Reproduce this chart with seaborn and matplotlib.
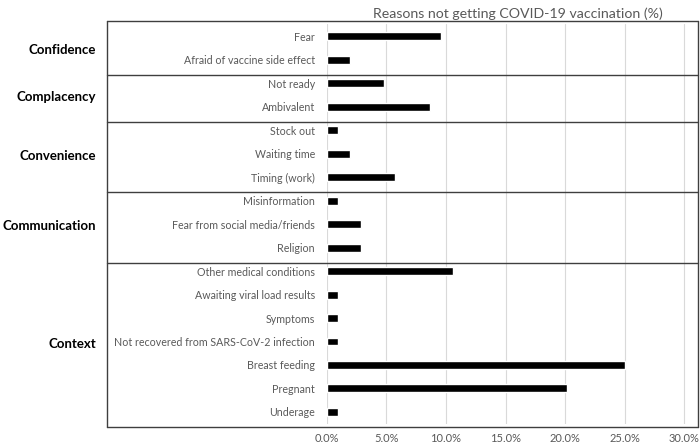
import matplotlib
matplotlib.use("Agg")
import matplotlib.pyplot as plt
import matplotlib.transforms as mtransforms
from matplotlib.lines import Line2D
import pandas as pd
import seaborn as sns

# values (% of respondents)
groups = ["Confidence", "Complacency", "Convenience", "Communication", "Context"]
group_sizes = [2, 2, 3, 3, 7]
reasons = [
    "Fear", "Afraid of vaccine side effect",
    "Not ready", "Ambivalent",
    "Stock out", "Waiting time", "Timing (work)",
    "Misinformation", "Fear from social media/friends", "Religion",
    "Other medical conditions", "Awaiting viral load results", "Symptoms",
    "Not recovered from SARS-CoV-2 infection", "Breast feeding", "Pregnant",
    "Underage",
]
percent = [9.62, 1.92, 4.81, 8.65, 0.96, 1.92, 5.77, 0.96, 2.88, 2.88,
           10.58, 0.96, 0.96, 0.96, 25.0, 20.19, 0.96]
xticks = [0, 5, 10, 15, 20, 25, 30]

sns.set_style("white")
plt.rcParams["font.family"] = ["Lato", "DejaVu Sans"]

grey = "#595959"
frame = "#3f3f3f"
W, H = 700, 444

df = pd.DataFrame({"reason": reasons, "percent": percent})

fig = plt.figure(figsize=(7, 4.44), dpi=100)
# axes placed in pixel terms of the reference
left, right = 326.7, 698
top, bottom = 24.45, 423.7
ax = fig.add_axes([left / W, 1 - bottom / H, (right - left) / W, (bottom - top) / H])

sns.barplot(data=df, x="percent", y="reason", orient="h", color="black",
            width=0.34, saturation=1, ax=ax)

xmax = 30 * (right - left) / (684.3 - left)
ax.set_xlim(0, xmax)
ax.set_ylim(len(reasons) - 0.5, -0.5)
ax.set_xticks(xticks)
ax.set_xticklabels([f"{t:.1f}%" for t in xticks])
ax.xaxis.grid(True, color="#d9d9d9", linewidth=0.8)
ax.set_axisbelow(True)
ax.set_xlabel("")
ax.set_ylabel("")
for s in ax.spines.values():
    s.set_visible(False)
ax.tick_params(axis="x", length=0, pad=7, labelsize=8, labelcolor=grey)
ax.tick_params(axis="y", length=0, pad=8.4, labelsize=7.7, labelcolor=grey)

# outer table frame
fx0, fx1 = 107 / W, right / W
fy0, fy1 = 1 - 21 / H, 1 - 426.7 / H
for xs, ys in [([fx0, fx1], [fy0, fy0]), ([fx0, fx1], [fy1, fy1]),
               ([fx0, fx0], [fy0, fy1]), ([fx1, fx1], [fy0, fy1])]:
    fig.add_artist(Line2D(xs, ys, color=frame, linewidth=1.0))

# group separators and labels
blend = mtransforms.blended_transform_factory(fig.transFigure, ax.transData)
start = 0
for name, n in zip(groups, group_sizes):
    end = start + n
    if end < len(reasons):
        ax.plot([fx0, fx1], [end - 0.35, end - 0.35], transform=blend,
                color=frame, linewidth=1.0, clip_on=False)
    ax.text(96 / W, (start + end - 1) / 2 + 0.1, name, transform=blend,
            ha="right", va="center", fontsize=9.5, fontweight="bold",
            color="black")
    start = end

fig.text(517.7 / W, 1 - 14 / H, "Reasons not getting COVID-19 vaccination (%)",
         ha="center", va="center", fontsize=10.2, color=grey)

fig.savefig("out.png", dpi=100)
